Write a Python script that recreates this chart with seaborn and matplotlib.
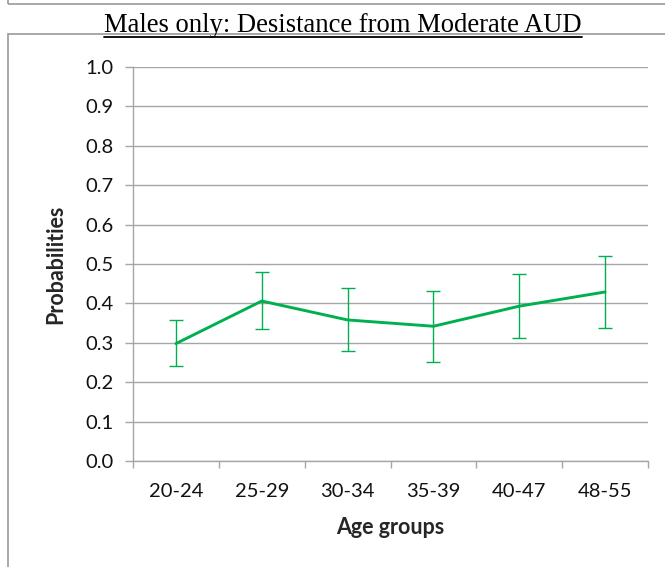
import numpy as np
import pandas as pd
import matplotlib
matplotlib.use("Agg")
import matplotlib.pyplot as plt
import seaborn as sns
from matplotlib.patches import Rectangle
from matplotlib.lines import Line2D

# Data
age_groups = ["20-24", "25-29", "30-34", "35-39", "40-47", "48-55"]
probabilities = [0.298, 0.406, 0.358, 0.342, 0.393, 0.429]
ci_lower = [0.241, 0.335, 0.279, 0.251, 0.312, 0.338]
ci_upper = [0.357, 0.480, 0.439, 0.431, 0.475, 0.520]

green = "#00B050"
grid_grey = "#A6A6A6"

sns.set_theme(style="white")
plt.rcParams["font.family"] = ["Lato", "DejaVu Sans"]

df = pd.DataFrame({"age": age_groups, "p": probabilities})
df["x"] = np.arange(len(age_groups))

fig = plt.figure(figsize=(6.65, 5.67), dpi=100)
ax = fig.add_axes([133 / 665, 106 / 567, 515 / 665, 394 / 567])

sns.lineplot(data=df, x="x", y="p", color=green, linewidth=2.1, ax=ax, zorder=3)
yerr = [np.array(probabilities) - np.array(ci_lower), np.array(ci_upper) - np.array(probabilities)]
ax.errorbar(df["x"], df["p"], yerr=yerr, fmt="none", ecolor=green,
            elinewidth=1.0, capsize=5, capthick=1.0, zorder=3)

ax.set_xlim(-0.5, len(age_groups) - 0.5)
ax.set_ylim(0, 1.0)
ax.set_yticks(np.arange(0, 1.01, 0.1))
ax.set_yticklabels([f"{v:.1f}" for v in np.arange(0, 1.01, 0.1)], fontsize=14.5)
ax.yaxis.grid(True, color=grid_grey, linewidth=1.0)
ax.set_axisbelow(True)

# category boundaries as major ticks, labels centered on minor ticks
ax.set_xticks(np.arange(-0.5, len(age_groups), 1.0))
ax.set_xticklabels([])
ax.set_xticks(np.arange(len(age_groups)), minor=True)
ax.set_xticklabels(age_groups, minor=True, fontsize=14.5)
ax.tick_params(axis="x", which="major", length=5, width=1, color=grid_grey, direction="out", bottom=True)
ax.tick_params(axis="x", which="minor", length=0, pad=16, colors="#111111")
ax.tick_params(axis="y", length=6, width=1, color=grid_grey, direction="out", left=True, pad=8, colors="#111111")

for side in ["top", "right"]:
    ax.spines[side].set_visible(False)
for side in ["left", "bottom"]:
    ax.spines[side].set_color(grid_grey)
    ax.spines[side].set_linewidth(1.0)

ax.set_xlabel("Age groups", fontsize=15.5, fontweight="bold", labelpad=12)
ax.set_ylabel("Probabilities", fontsize=15.5, fontweight="bold", labelpad=14)

# frames around the chart like the source document
fig.patches.append(Rectangle((8, 563), 700, 14, transform=None, fill=False,
                             edgecolor="#9a9a9a", linewidth=1.2, figure=fig))
fig.patches.append(Rectangle((8, -10), 700, 543, transform=None, fill=False,
                             edgecolor="#9a9a9a", linewidth=1.2, figure=fig))

title = fig.text(343 / 665, 1 - 25 / 567, "Males only: Desistance from Moderate AUD",
                 ha="center", va="center", fontsize=19.2,
                 family=["Liberation Serif", "DejaVu Serif"], color="black")

fig.canvas.draw()
bb = title.get_window_extent(fig.canvas.get_renderer())
fig.lines.append(Line2D([bb.x0, bb.x1], [bb.y0 + 1, bb.y0 + 1], transform=None,
                        color="black", linewidth=1.3, figure=fig))

fig.savefig("out.png", dpi=100)
